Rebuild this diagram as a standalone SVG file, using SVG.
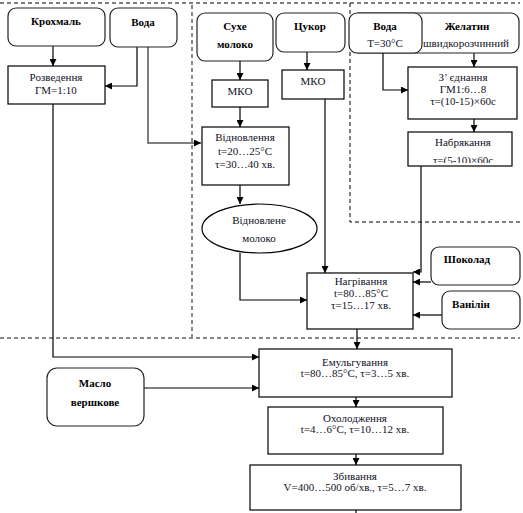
<svg xmlns="http://www.w3.org/2000/svg" width="523" height="513" viewBox="0 0 523 513">
<defs>
<style>
.b{fill:#fff;stroke:#000;stroke-width:1.2}
.r{fill:#fff;stroke:#222;stroke-width:1.2}
.t{font-family:"Liberation Serif","Times New Roman",serif;font-size:11px;fill:#111126;text-anchor:middle}
.bl{font-family:"Liberation Serif","Times New Roman",serif;font-size:11px;font-weight:bold;fill:#000;text-anchor:middle}
.c{fill:none;stroke:#000;stroke-width:1.2}
.g{fill:none;stroke:#555;stroke-width:1.5}
.d{fill:none;stroke:#000;stroke-width:1;stroke-dasharray:4,3}
.dg{fill:none;stroke:#888;stroke-width:2;stroke-dasharray:4,3}
</style>
<marker id="a" viewBox="0 0 8 8" refX="8" refY="4" markerWidth="7" markerHeight="7" markerUnits="userSpaceOnUse" orient="auto">
<path d="M0,0 L8,4 L0,8 z" fill="#000"/>
</marker>
<clipPath id="nc"><rect x="408" y="132" width="104" height="31"/></clipPath>
</defs>
<rect width="523" height="513" fill="#fff"/>
<g id="frames">
<path class="d" d="M0,3 H520"/>
<path class="dg" d="M192,5 V337"/>
<path class="d" d="M350,3 V222 H520"/>
<path class="dg" d="M0,338 H520"/>
</g>
<g id="connectors">
<path class="c" d="M53,46 V66" marker-end="url(#a)"/>
<path class="c" d="M137,47 V86 H105" marker-end="url(#a)"/>
<path class="g" d="M148,47 V143 H201" marker-end="url(#a)"/>
<path class="c" d="M53,104 V357 H259" marker-end="url(#a)"/>
<path class="c" d="M240,61 V80" marker-end="url(#a)"/>
<path class="c" d="M307,52 V70" marker-end="url(#a)"/>
<path class="c" d="M240,107 V127" marker-end="url(#a)"/>
<path class="c" d="M325,99 V273" marker-end="url(#a)"/>
<path class="c" d="M240,185 V204" marker-end="url(#a)"/>
<path class="c" d="M240,253 V300 H307" marker-end="url(#a)"/>
<path class="c" d="M474,53 V67" marker-end="url(#a)"/>
<path class="c" d="M383,53 V90 H408" marker-end="url(#a)"/>
<path class="c" d="M474,119 V132" marker-end="url(#a)"/>
<path class="c" d="M421,166 V272 H413" marker-end="url(#a)"/>
<path class="c" d="M431,282 H413" marker-end="url(#a)"/>
<path class="c" d="M442,315 H413" marker-end="url(#a)"/>
<path class="c" d="M357,329 V349" marker-end="url(#a)"/>
<path class="g" d="M144,388 H259" marker-end="url(#a)"/>
<path class="c" d="M356,397 V407" marker-end="url(#a)"/>
<path class="c" d="M356,454 V465" marker-end="url(#a)"/>
<path class="c" d="M356,510 V513"/>
</g>
<g id="krokhmal"><rect class="r" x="8" y="8" width="97" height="38" rx="8"/><text class="bl" x="56" y="25">Крохмаль</text></g>
<g id="voda1"><rect class="r" x="110" y="8" width="67" height="39" rx="8"/><text class="bl" x="143" y="26">Вода</text></g>
<g id="rozvedennia"><rect class="b" x="8" y="66" width="97" height="38"/><text class="t" x="56" y="81">Розведення</text><text class="t" x="56" y="94">ГМ=1:10</text></g>
<g id="sukhe"><rect class="r" x="197" y="13" width="76" height="48" rx="8"/><text class="bl" x="235" y="30">Сухе</text><text class="bl" x="235" y="48">молоко</text></g>
<g id="tsukor"><rect class="r" x="276" y="13" width="69" height="39" rx="8"/><text class="bl" x="310" y="30">Цукор</text></g>
<g id="mko1"><rect class="b" x="212" y="80" width="56" height="27"/><text class="t" x="240" y="95">МКО</text></g>
<g id="mko2"><rect class="b" x="282" y="70" width="62" height="29"/><text class="t" x="313" y="85">МКО</text></g>
<g id="vidnovlennia"><rect class="b" x="202" y="127" width="87" height="58"/><text class="t" x="245" y="141">Відновлення</text><text class="t" x="245" y="155">t=20…25°С</text><text class="t" x="245" y="168">τ=30…40 хв.</text></g>
<g id="vidnovlene"><ellipse class="b" cx="259.5" cy="228.5" rx="57.5" ry="24.5"/><text class="t" x="259" y="224">Відновлене</text><text class="t" x="259" y="242">молоко</text></g>
<g id="zhelatyn"><rect class="r" x="351" y="13" width="168" height="40" rx="8"/><text class="bl" x="467" y="30">Желатин</text><text class="t" x="466" y="47" textLength="86" lengthAdjust="spacingAndGlyphs">швидкорозчинний</text></g>
<g id="voda2"><rect class="r" x="349" y="13" width="73" height="40" rx="8"/><text class="bl" x="385" y="30">Вода</text><text class="t" x="385" y="47">Т=30°С</text></g>
<g id="ziednannia"><rect class="b" x="408" y="67" width="109" height="52"/><text class="t" x="463" y="81">З’ єднання</text><text class="t" x="463" y="93">ГМ1:6…8</text><text class="t" x="463" y="105">τ=(10-15)×60с</text></g>
<g id="nabriakannia"><rect class="b" x="408" y="132" width="104" height="34"/><text class="t" x="463" y="146">Набрякання</text><text class="t" x="463" y="164" clip-path="url(#nc)">τ=(5-10)×60с</text></g>
<g id="nahrivannia"><rect class="b" x="307" y="273" width="106" height="56"/><text class="t" x="361" y="285">Нагрівання</text><text class="t" x="361" y="297">t=80…85°С</text><text class="t" x="361" y="309">τ=15…17 хв.</text></g>
<g id="shokolad"><rect class="r" x="431" y="247" width="89" height="38" rx="8"/><text class="bl" x="467" y="263">Шоколад</text></g>
<g id="vanilin"><rect class="r" x="442" y="291" width="78" height="38" rx="8"/><text class="bl" x="471" y="308">Ванілін</text></g>
<g id="emulhuvannia"><rect class="b" x="259" y="349" width="193" height="48"/><text class="t" x="355" y="366">Емульгування</text><text class="t" x="355" y="377">t=80…85°С, τ=3…5 хв.</text></g>
<g id="maslo"><rect class="r" x="47" y="368" width="97" height="58" rx="10"/><text class="bl" x="95" y="387">Масло</text><text class="bl" x="95" y="406">вершкове</text></g>
<g id="okholodzhennia"><rect class="b" x="268" y="407" width="175" height="47"/><text class="t" x="355" y="422">Охолодження</text><text class="t" x="355" y="433">t=4…6°С, τ=10…12 хв.</text></g>
<g id="zbyvannia"><rect class="b" x="250" y="465" width="211" height="45"/><text class="t" x="355" y="480">Збивання</text><text class="t" x="355" y="491">V=400…500 об/хв., τ=5…7 хв.</text></g>
</svg>
